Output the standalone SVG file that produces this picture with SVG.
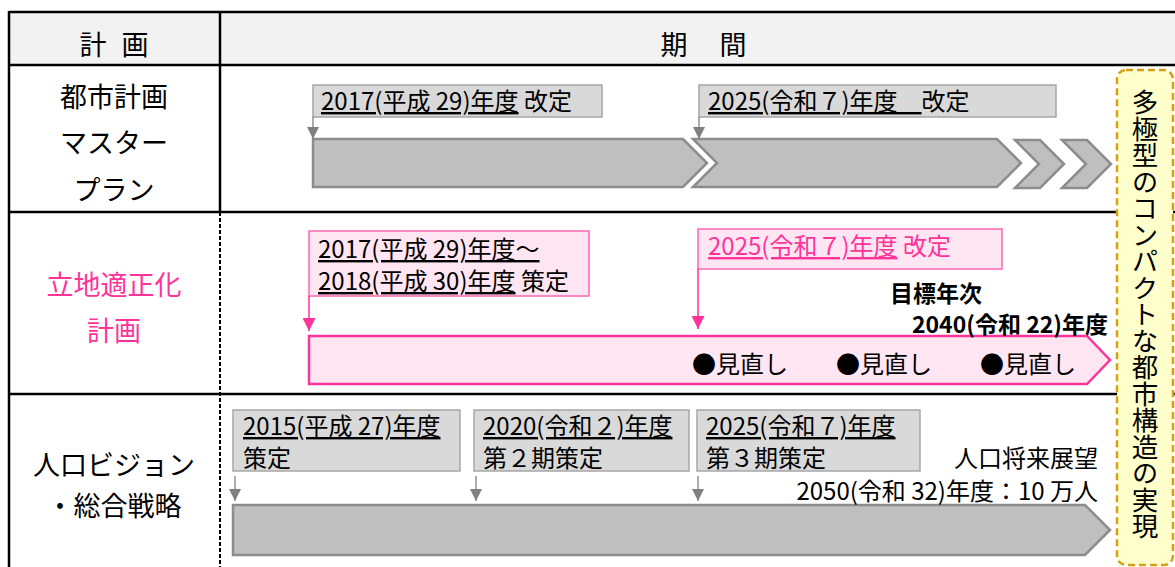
<svg xmlns="http://www.w3.org/2000/svg" width="1175" height="567" viewBox="0 0 1175 567">
<defs>
<style>
text{font-family:"Noto Sans CJK JP","Noto Sans CJK SC",sans-serif;fill:#000}
.lbl{font-size:27px;text-anchor:middle}
.pk{fill:#ff3399}
.t{font-size:24px}
.u{text-decoration:underline}
.b{font-weight:bold;font-size:23px}
.gbox{fill:#d9d9d9;stroke:#a6a6a6;stroke-width:1.5}
.gbar{fill:#bfbfbf;stroke:#8c8c8c;stroke-width:2.5}
.pbox{fill:#ffe6f2;stroke:#ff66b3;stroke-width:1.5}
.pbar{fill:#ffe6f2;stroke:#ff3399;stroke-width:2.5}
.grid{stroke:#000;stroke-width:2.5;fill:none}
.ga{stroke:#808080;stroke-width:1.3;fill:none}
.pa{stroke:#ff3399;stroke-width:1.5;fill:none}
</style>
<marker id="mg" markerUnits="userSpaceOnUse" markerWidth="12" markerHeight="12" viewBox="0 0 10 10" refX="10" refY="5" orient="auto"><path d="M0,0 L10,5 L0,10 Z" fill="#808080"/></marker>
<marker id="mp" markerUnits="userSpaceOnUse" markerWidth="13" markerHeight="13" viewBox="0 0 10 10" refX="10" refY="5" orient="auto"><path d="M0,0 L10,5 L0,10 Z" fill="#ff3399"/></marker>
</defs>
<rect x="0" y="0" width="1175" height="567" fill="#fff"/>
<g id="table">
<rect x="9" y="12" width="1170" height="53" fill="#f2f2f2"/>
<line class="grid" x1="9" y1="12" x2="1175" y2="12"/>
<line class="grid" x1="9" y1="65" x2="1175" y2="65"/>
<line class="grid" x1="9" y1="212" x2="1175" y2="212"/>
<line class="grid" x1="9" y1="394" x2="1175" y2="394"/>
<line class="grid" x1="9" y1="11" x2="9" y2="567"/>
<line class="grid" x1="220" y1="12" x2="220" y2="212"/>
<line stroke="#000" stroke-width="2" stroke-dasharray="4,2" x1="220" y1="212" x2="220" y2="567"/>
<text class="lbl" x="93" y="55">計</text>
<text class="lbl" x="135" y="55">画</text>
<text class="lbl" x="674" y="55">期</text>
<text class="lbl" x="733" y="55">間</text>
</g>
<g id="row1-label">
<text class="lbl" x="114" y="107">都市計画</text>
<text class="lbl" x="114" y="153">マスター</text>
<text class="lbl" x="114" y="200">プラン</text>
</g>
<g id="row2-label">
<text class="lbl pk" x="114" y="295">立地適正化</text>
<text class="lbl pk" x="114" y="341">計画</text>
</g>
<g id="row3-label">
<text class="lbl" x="114" y="475">人口ビジョン</text>
<text class="lbl" x="114" y="516">・総合戦略</text>
</g>
<g id="mp-bar1"><path class="gbar" d="M313,139 L683,139 L707,163 L683,187 L313,187 Z"/></g>
<g id="mp-bar2"><path class="gbar" d="M693,139 L997,139 L1021,163 L997,187 L693,187 L717,163 Z"/></g>
<g id="mp-bar3"><path class="gbar" d="M1015,140 L1040,140 L1064,164 L1040,188 L1015,188 L1039,164 Z"/></g>
<g id="mp-bar4"><path class="gbar" d="M1062,140 L1087,140 L1111,164 L1087,188 L1062,188 L1086,164 Z"/></g>
<g id="mp-2017">
<rect class="gbox" x="313" y="85" width="289" height="32"/>
<text class="t" x="321" y="110"><tspan class="u">2017(平成 29)年度</tspan> 改定</text>
</g>
<g id="mp-2025">
<rect class="gbox" x="699" y="85" width="357" height="32"/>
<text class="t" x="708" y="110"><tspan class="u">2025(令和７)年度　</tspan>改定</text>
</g>
<g id="ri-bar"><path class="pbar" d="M309,336 L1087,336 L1110,360 L1087,384 L309,384 Z"/>
<text class="t" x="692" y="373">●見直し</text>
<text class="t" x="836" y="373">●見直し</text>
<text class="t" x="980" y="373">●見直し</text>
</g>
<g id="ri-2017">
<rect class="pbox" x="309" y="231" width="280" height="65"/>
<text class="t" x="318" y="258"><tspan class="u">2017(平成 29)年度～</tspan></text>
<text class="t" x="318" y="290"><tspan class="u">2018(平成 30)年度</tspan> 策定</text>
</g>
<g id="ri-2025">
<rect class="pbox" x="698" y="229" width="304" height="40"/>
<text class="t pk" x="708" y="255"><tspan class="u">2025(令和７)年度</tspan> 改定</text>
</g>
<g id="ri-target">
<text class="b" x="890" y="302">目標年次</text>
<text class="b" x="1108" y="333" text-anchor="end">2040(令和 22)年度</text>
</g>
<g id="pv-bar"><path class="gbar" d="M233,505 L1085,505 L1110,530 L1085,555 L233,555 Z"/></g>
<g id="pv-2015">
<rect class="gbox" x="233" y="410" width="227" height="61"/>
<text class="t" x="243" y="435"><tspan class="u">2015(平成 27)年度</tspan></text>
<text class="t" x="243" y="467">策定</text>
</g>
<g id="pv-2020">
<rect class="gbox" x="474" y="410" width="215" height="61"/>
<text class="t" x="483" y="435"><tspan class="u">2020(令和２)年度</tspan></text>
<text class="t" x="483" y="467">第２期策定</text>
</g>
<g id="pv-2025">
<rect class="gbox" x="697" y="410" width="223" height="61"/>
<text class="t" x="706" y="435"><tspan class="u">2025(令和７)年度</tspan></text>
<text class="t" x="706" y="467">第３期策定</text>
</g>
<g id="pv-outlook">
<text class="t" x="1098" y="467" text-anchor="end">人口将来展望</text>
<text class="t" x="1098" y="500" text-anchor="end">2050(令和 32)年度：10 万人</text>
</g>
<g id="goal">
<rect x="1117" y="70" width="56" height="495" rx="9" fill="#ffffcc" stroke="#d4a017" stroke-width="2.5" stroke-dasharray="7,4"/>
<text x="1145" y="89" style="writing-mode:vertical-rl" font-size="26.5">多極型のコンパクトな都市構造の実現</text>
</g>
<g id="connectors">
<line class="ga" x1="313" y1="117" x2="313" y2="139" marker-end="url(#mg)"/>
<line class="ga" x1="699" y1="117" x2="699" y2="139" marker-end="url(#mg)"/>
<line class="pa" x1="309" y1="296" x2="309" y2="331" marker-end="url(#mp)"/>
<line class="pa" x1="698" y1="269" x2="698" y2="329" marker-end="url(#mp)"/>
<line class="ga" x1="235" y1="476" x2="235" y2="501" marker-end="url(#mg)"/>
<line class="ga" x1="476" y1="476" x2="476" y2="501" marker-end="url(#mg)"/>
<line class="ga" x1="698" y1="476" x2="698" y2="501" marker-end="url(#mg)"/>
</g>
</svg>
